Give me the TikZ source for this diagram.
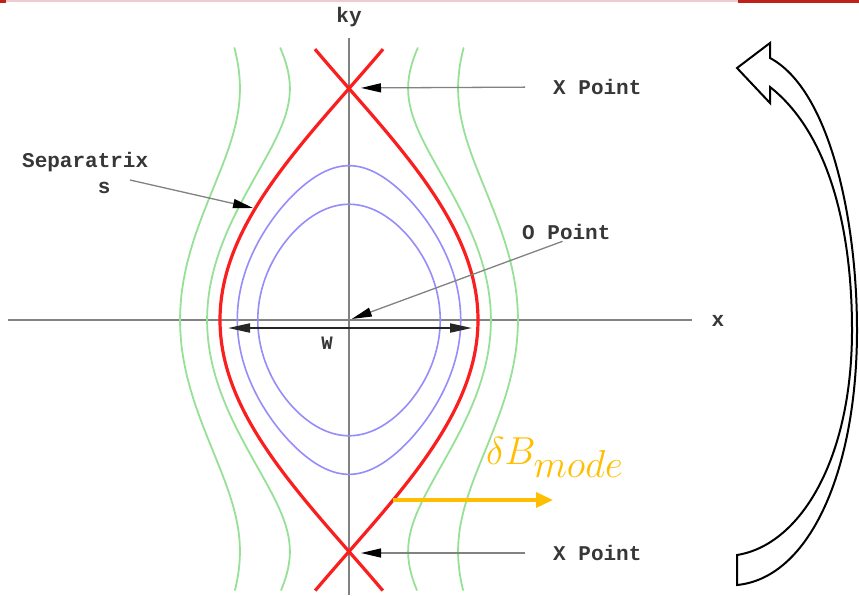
\RequirePackage{fix-cm}
\documentclass[tikz,border=0pt]{standalone}
\usepackage{fontspec}
\setmonofont{Liberation Mono}
\usetikzlibrary{arrows.meta}
\definecolor{sepred}{RGB}{250,30,30}
\definecolor{islandblue}{RGB}{150,140,250}
\definecolor{fieldgreen}{RGB}{150,225,150}
\definecolor{axisgray}{RGB}{130,130,130}
\definecolor{labelgray}{RGB}{55,55,55}
\definecolor{modeyellow}{RGB}{255,190,0}
\definecolor{bannerred}{RGB}{192,32,26}
\definecolor{bannerpink}{RGB}{236,204,208}

\begin{document}
\begin{tikzpicture}[x=1pt, y=-1pt,
  lbl/.style={font=\fontsize{21}{26}\selectfont\ttfamily\bfseries, text=labelgray, inner sep=0pt},
  pointer/.style={draw=axisgray, line width=1.3pt, -{Triangle[length=20pt,width=9pt,color=black]}},
  fieldline/.style={line width=1.8pt, line cap=round}]
  \useasboundingbox (0,0) rectangle (859,595);
  \fill[white] (0,0) rectangle (859,595);

  % Banner line at the top
  \fill[bannerpink] (6,0) rectangle (738,2);
  \fill[bannerred] (0,0) rectangle (6,3);
  \fill[bannerred] (738,0) rectangle (859,3);

  % Axes
  \draw[axisgray, line width=1.8pt] (8,320) -- (692,320);
  \draw[axisgray, line width=1.8pt] (349,38) -- (349,595);
  \node[lbl] (kylbl) at (349,17) {ky};
  \node[lbl] (xlbl) at (718,321) {x};

  % Field lines outside the island
  \foreach \c in {1.42, 2.43} {
    \draw[fieldline, fieldgreen] plot[domain=-211.5:210, samples=90, smooth]
      ({349-129*sqrt((\c+cos(\x))/2)}, {320+1.2861*\x});
    \draw[fieldline, fieldgreen] plot[domain=-211.5:210, samples=90, smooth]
      ({349+129*sqrt((\c+cos(\x))/2)}, {320+1.2861*\x});
  }

  % Closed surfaces inside the island
  \foreach \c/\tm in {0/90, 0.5/120} {
    \draw[fieldline, islandblue, line width=1.6pt]
      plot[domain=-90:90, samples=90, smooth]
        ({349+129*sqrt(max(0,(\c+cos(\tm*sin(\x)))/2))}, {320+1.2861*\tm*sin(\x)})
      plot[domain=-90:90, samples=90, smooth]
        ({349-129*sqrt(max(0,(\c+cos(\tm*sin(\x)))/2))}, {320+1.2861*\tm*sin(\x)});
  }

  % Separatrix
  \draw[sepred, line width=3.2pt] plot[domain=-1.17:1.17, samples=120, smooth]
    ({349+129*cos(90*\x)}, {320+231.5*\x});
  \draw[sepred, line width=3.2pt] plot[domain=-1.17:1.17, samples=120, smooth]
    ({349-129*cos(90*\x)}, {320+231.5*\x});

  % Special points
  \coordinate (xtop) at (349,88);
  \coordinate (xbot) at (349,553);
  \coordinate (opt) at (349,320);
  \coordinate (sepfrom) at (130,180);
  \coordinate (sephit) at (253,208);
  \coordinate (wleft) at (228,328);
  \coordinate (wright) at (472,328);
  \coordinate (modefrom) at (393,500);
  \coordinate (modeto) at (553,500);

  % Labels
  \node[lbl, anchor=west] (xtoplbl) at (553,87) {X Point};
  \node[lbl, anchor=west] (xbotlbl) at (553,553) {X Point};
  \node[lbl, anchor=west] (optlbl) at (522,232) {O Point};
  \node[lbl, anchor=west, align=left] (seplbl) at (22,175) {Separatrix\\\phantom{Separa}s};
  \node[lbl, font=\fontsize{19}{22}\selectfont\ttfamily\bfseries] (wlbl) at (327,343) {W};
  \node[text=modeyellow, anchor=base west, inner sep=0pt,
        font=\fontsize{39}{45}\selectfont] (modelbl) at (486,464)
    {$\delta B_{\textstyle mode}$};

  % Pointers
  \draw[pointer, shorten <=28pt, shorten >=12pt] (xtoplbl.west) -- (xtop);
  \draw[pointer, shorten <=28pt, shorten >=12pt] (xbotlbl.west) -- (xbot);
  \draw[pointer, shorten <=4pt, shorten >=3pt] (optlbl.south) -- (opt);
  \draw[pointer] (sepfrom) -- (sephit);
  \draw[black!85, line width=2pt, {Triangle[length=22pt,width=9pt]}-{Triangle[length=22pt,width=9pt]}]
    (wleft) -- (wright);
  \draw[modeyellow, line width=3.5pt, -{Triangle[length=17pt,width=15pt]}] (modefrom) -- (modeto);

  % Hollow curved arrow on the right
  \draw[black, line width=2pt, fill=white, line join=miter]
    (737,68) -- (770,43) -- (770,58)
    .. controls (830,90) and (857,220) .. (857,330)
    .. controls (857,470) and (810,578) .. (737,585)
    -- (737,555)
    .. controls (800,545) and (852,460) .. (852,330)
    .. controls (852,220) and (825,130) .. (770,87)
    -- (770,103) -- cycle;
\end{tikzpicture}
\end{document}
